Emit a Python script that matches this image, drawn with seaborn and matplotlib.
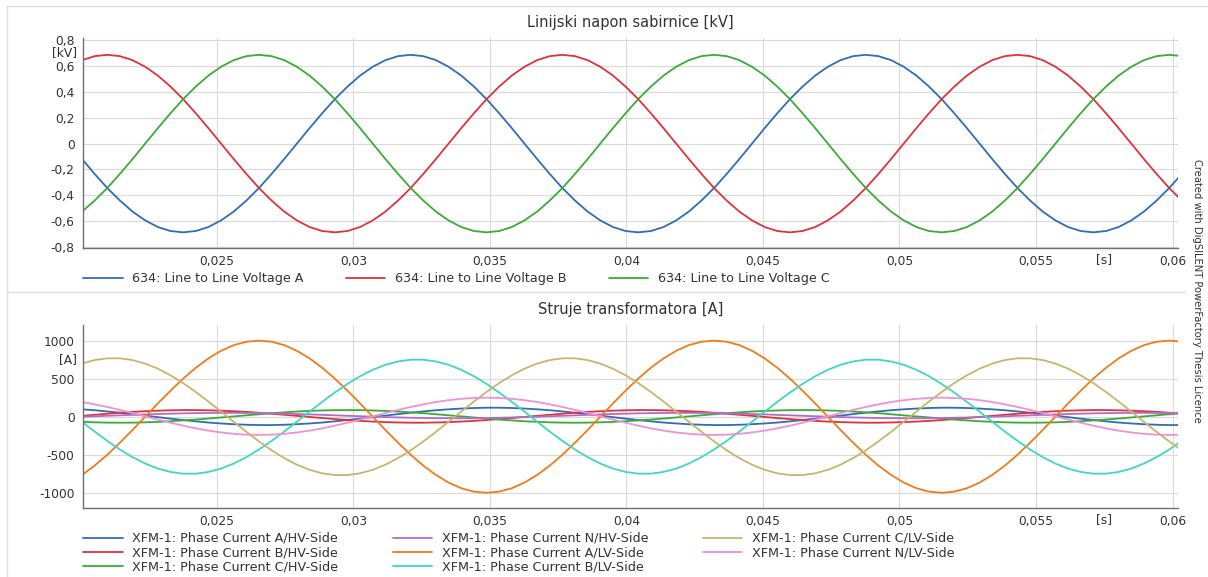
import matplotlib
matplotlib.use("Agg")
import matplotlib.pyplot as plt
import pandas as pd
import seaborn as sns
from matplotlib.lines import Line2D
from matplotlib.ticker import FixedLocator, MultipleLocator, FuncFormatter

# sample times [s]
t = [0.020063, 0.020526, 0.020989, 0.021452, 0.021915, 0.022378, 0.022841, 0.023304, 0.023767, 0.024230,
     0.024693, 0.025156, 0.025619, 0.026082, 0.026544, 0.027007, 0.027470, 0.027933, 0.028396, 0.028859,
     0.029322, 0.029785, 0.030248, 0.030711, 0.031174, 0.031637, 0.032100, 0.032563, 0.033026, 0.033489,
     0.033952, 0.034415, 0.034878, 0.035341, 0.035804, 0.036267, 0.036730, 0.037193, 0.037656, 0.038119,
     0.038582, 0.039044, 0.039507, 0.039970, 0.040433, 0.040896, 0.041359, 0.041822, 0.042285, 0.042748,
     0.043211, 0.043674, 0.044137, 0.044600, 0.045063, 0.045526, 0.045989, 0.046452, 0.046915, 0.047378,
     0.047841, 0.048304, 0.048767, 0.049230, 0.049693, 0.050156, 0.050619, 0.051082, 0.051545, 0.052007,
     0.052470, 0.052933, 0.053396, 0.053859, 0.054322, 0.054785, 0.055248, 0.055711, 0.056174, 0.056637,
     0.057100, 0.057563, 0.058026, 0.058489, 0.058952, 0.059415, 0.059878, 0.060341, 0.060804]

# 634: line to line voltages [kV]
v_a = [-0.119, -0.234, -0.343, -0.440, -0.525, -0.593, -0.644, -0.675, -0.685, -0.675, -0.644, -0.593, -0.525,
       -0.440, -0.343, -0.234, -0.119, 0.000, 0.119, 0.234, 0.343, 0.440, 0.525, 0.593, 0.644, 0.675,
       0.685, 0.675, 0.644, 0.593, 0.525, 0.440, 0.343, 0.234, 0.119, 0.000, -0.119, -0.234, -0.343,
       -0.440, -0.525, -0.593, -0.644, -0.675, -0.685, -0.675, -0.644, -0.593, -0.525, -0.440, -0.343, -0.234,
       -0.119, 0.000, 0.119, 0.234, 0.343, 0.440, 0.525, 0.593, 0.644, 0.675,
       0.685, 0.675, 0.644, 0.593, 0.525, 0.440, 0.343, 0.234, 0.119, 0.000, -0.119, -0.234, -0.343,
       -0.440, -0.525, -0.593, -0.644, -0.675, -0.685, -0.675, -0.644, -0.593, -0.525, -0.440, -0.343, -0.234,
       -0.119]
v_b = [0.644, 0.675,
       0.685, 0.675, 0.644, 0.593, 0.525, 0.440, 0.343, 0.234, 0.119, 0.000, -0.119, -0.234, -0.343,
       -0.440, -0.525, -0.593, -0.644, -0.675, -0.685, -0.675, -0.644, -0.593, -0.525, -0.440, -0.343, -0.234,
       -0.119, 0.000, 0.119, 0.234, 0.343, 0.440, 0.525, 0.593, 0.644, 0.675,
       0.685, 0.675, 0.644, 0.593, 0.525, 0.440, 0.343, 0.234, 0.119, 0.000, -0.119, -0.234, -0.343,
       -0.440, -0.525, -0.593, -0.644, -0.675, -0.685, -0.675, -0.644, -0.593, -0.525, -0.440, -0.343, -0.234,
       -0.119, 0.000, 0.119, 0.234, 0.343, 0.440, 0.525, 0.593, 0.644, 0.675,
       0.685, 0.675, 0.644, 0.593, 0.525, 0.440, 0.343, 0.234, 0.119, 0.000, -0.119, -0.234, -0.343,
       -0.440, -0.525]
v_c = [-0.525, -0.440, -0.343, -0.234, -0.119, 0.000, 0.119, 0.234, 0.343, 0.440, 0.525, 0.593, 0.644, 0.675,
       0.685, 0.675, 0.644, 0.593, 0.525, 0.440, 0.343, 0.234, 0.119, 0.000, -0.119, -0.234, -0.343,
       -0.440, -0.525, -0.593, -0.644, -0.675, -0.685, -0.675, -0.644, -0.593, -0.525, -0.440, -0.343, -0.234,
       -0.119, 0.000, 0.119, 0.234, 0.343, 0.440, 0.525, 0.593, 0.644, 0.675,
       0.685, 0.675, 0.644, 0.593, 0.525, 0.440, 0.343, 0.234, 0.119, 0.000, -0.119, -0.234, -0.343,
       -0.440, -0.525, -0.593, -0.644, -0.675, -0.685, -0.675, -0.644, -0.593, -0.525, -0.440, -0.343, -0.234,
       -0.119, 0.000, 0.119, 0.234, 0.343, 0.440, 0.525, 0.593, 0.644, 0.675,
       0.685, 0.675, 0.644]

# XFM-1 phase currents [A]
i_a_hv = [97, 85, 69, 52, 34, 14, -6, -26, -44, -61, -77, -89, -99, -106, -110, -110, -106, -99, -89, -77,
          -61, -44, -26, -6, 14, 34, 52, 69, 85, 97, 107, 114, 118,
          118, 114, 107, 97, 85, 69, 52, 34, 14, -6, -26, -44, -61, -77, -89, -99, -106, -110, -110, -106,
          -99, -89, -77, -61, -44, -26, -6, 14, 34, 52, 69, 85, 97, 107, 114, 118,
          118, 114, 107, 97, 85, 69, 52, 34, 14, -6, -26, -44, -61, -77, -89, -99, -106, -110, -110, -106]
i_b_hv = [11, 25, 39, 52, 63, 72, 79, 84, 87,
          87, 84, 79, 72, 63, 52, 39, 25, 11, -3, -18, -31, -44, -55, -64, -71, -76, -79, -79, -76, -71,
          -64, -55, -44, -31, -18, -3, 11, 25, 39, 52, 63, 72, 79, 84, 87,
          87, 84, 79, 72, 63, 52, 39, 25, 11, -3, -18, -31, -44, -55, -64, -71, -76, -79, -79, -76, -71,
          -64, -55, -44, -31, -18, -3, 11, 25, 39, 52, 63, 72, 79, 84, 87,
          87, 84, 79, 72, 63, 52, 39, 25]
i_c_hv = [-68, -74, -78, -79, -78, -74, -68, -60, -49, -38, -24, -10, 4, 18, 32, 46, 57, 68, 76, 82, 86,
          87, 86, 82, 76, 68, 57, 46, 32, 18, 4, -10, -24, -38, -49, -60, -68, -74, -78, -79, -78, -74,
          -68, -60, -49, -38, -24, -10, 4, 18, 32, 46, 57, 68, 76, 82, 86,
          87, 86, 82, 76, 68, 57, 46, 32, 18, 4, -10, -24, -38, -49, -60, -68, -74, -78, -79, -78, -74,
          -68, -60, -49, -38, -24, -10, 4, 18, 32, 46, 57]
i_n_hv = [0, 6, 12, 18, 24, 30, 35, 40, 44, 47, 49, 50,
          50, 49, 47, 44, 40, 35, 30, 24, 18, 12, 6, 0, -5, -10, -14, -17, -19, -20, -20, -19, -17, -14,
          -10, -5, 0, 6, 12, 18, 24, 30, 35, 40, 44, 47, 49, 50,
          50, 49, 47, 44, 40, 35, 30, 24, 18, 12, 6, 0, -5, -10, -14, -17, -19, -20, -20, -19, -17, -14,
          -10, -5, 0, 6, 12, 18, 24, 30, 35, 40, 44, 47, 49, 50,
          50, 49, 47, 44, 40]
i_a_lv = [-766, -643, -500, -342, -174, 0, 174, 342, 500, 643, 766, 866, 940, 985,
          1000, 985, 940, 866, 766, 643, 500, 342, 174, 0, -174, -342, -500, -643, -766, -866, -940, -985,
          -1000, -985, -940, -866, -766, -643, -500, -342, -174, 0, 174, 342, 500, 643, 766, 866, 940, 985,
          1000, 985, 940, 866, 766, 643, 500, 342, 174, 0, -174, -342, -500, -643, -766, -866, -940, -985,
          -1000, -985, -940, -866, -766, -643, -500, -342, -174, 0, 174, 342, 500, 643, 766, 866, 940, 985,
          1000, 985, 940]
i_b_lv = [-66, -195, -318, -431, -532, -616, -682, -726, -749, -749, -726, -682, -616, -532, -431, -318,
          -195, -66, 66, 195, 318, 431, 532, 616, 682, 726, 749,
          749, 726, 682, 616, 532, 431, 318, 195, 66, -66, -195, -318, -431, -532, -616, -682, -726, -749,
          -749, -726, -682, -616, -532, -431, -318, -195, -66, 66, 195, 318, 431, 532, 616, 682, 726, 749,
          749, 726, 682, 616, 532, 431, 318, 195, 66, -66, -195, -318, -431, -532, -616, -682, -726, -749,
          -749, -726, -682, -616, -532, -431, -318, -195]
i_c_lv = [698, 744, 767,
          767, 744, 698, 631, 544, 442, 325, 199, 67, -67, -199, -325, -442, -544, -631, -698, -744, -767,
          -767, -744, -698, -631, -544, -442, -325, -199, -67, 67, 199, 325, 442, 544, 631, 698, 744, 767,
          767, 744, 698, 631, 544, 442, 325, 199, 67, -67, -199, -325, -442, -544, -631, -698, -744, -767,
          -767, -744, -698, -631, -544, -442, -325, -199, -67, 67, 199, 325, 442, 544, 631, 698, 744, 767,
          767, 744, 698, 631, 544, 442, 325, 199, 67, -67, -199, -325, -442, -544]
i_n_lv = [193, 162, 128, 89, 48, 5, -38, -79, -118, -153, -183, -207, -225, -236, -240, -236, -225, -207,
          -183, -153, -118, -79, -38, 5, 48, 89, 128, 162, 193, 217, 235, 246,
          250, 246, 235, 217, 193, 162, 128, 89, 48, 5, -38, -79, -118, -153, -183, -207, -225, -236,
          -240, -236, -225, -207, -183, -153, -118, -79, -38, 5, 48, 89, 128, 162, 193, 217, 235, 246,
          250, 246, 235, 217, 193, 162, 128, 89, 48, 5, -38, -79, -118, -153, -183, -207, -225, -236,
          -240, -236, -225]

volt_names = ['634: Line to Line Voltage A', '634: Line to Line Voltage B', '634: Line to Line Voltage C']
curr_names = ['XFM-1: Phase Current A/HV-Side', 'XFM-1: Phase Current B/HV-Side',
              'XFM-1: Phase Current C/HV-Side', 'XFM-1: Phase Current N/HV-Side',
              'XFM-1: Phase Current A/LV-Side', 'XFM-1: Phase Current B/LV-Side',
              'XFM-1: Phase Current C/LV-Side', 'XFM-1: Phase Current N/LV-Side']

volt_colors = ['#2f6db5', '#e0323c', '#3aab35']
curr_colors = ['#2f6db5', '#e0323c', '#3aab35', '#b46ccb',
               '#f07b1c', '#3fd7c2', '#c8b56c', '#ef92cf']

volt_df = pd.DataFrame(dict(zip(['t'] + volt_names, [t, v_a, v_b, v_c]))).melt(
    id_vars='t', var_name='series', value_name='value')
curr_df = pd.DataFrame(dict(zip(['t'] + curr_names,
                                [t, i_a_hv, i_b_hv, i_c_hv, i_n_hv, i_a_lv, i_b_lv, i_c_lv, i_n_lv]))).melt(
    id_vars='t', var_name='series', value_name='value')

sns.set_theme(style='white')
plt.rcParams['font.family'] = ['DejaVu Sans']

W, H = 1208, 577
fig = plt.figure(figsize=(W / 100, H / 100), dpi=100)
fig.patch.set_facecolor('white')

ax1 = fig.add_axes([83 / W, 1 - 248 / H, (1178 - 83) / W, 210 / H])
ax2 = fig.add_axes([83 / W, 1 - 508 / H, (1178 - 83) / W, 183 / H])

sns.lineplot(data=volt_df, x='t', y='value', hue='series', hue_order=volt_names,
             palette=volt_colors, linewidth=1.3, estimator=None, sort=False, ax=ax1)
sns.lineplot(data=curr_df, x='t', y='value', hue='series', hue_order=curr_names,
             palette=curr_colors, linewidth=1.3, estimator=None, sort=False, ax=ax2)

text_col = '#333333'
xticks = [0.025, 0.03, 0.035, 0.04, 0.045, 0.05, 0.055, 0.06]


def dec(v):
    s = ('%g' % round(v, 4)).replace('.', ',')
    return '0' if s in ('-0', '0') else s


for ax, yt, ylim, yminor, unit, unit_y in [
        (ax1, [-0.8, -0.6, -0.4, -0.2, 0, 0.2, 0.4, 0.6, 0.8], (-0.806, 0.815), 0.05, '[kV]', 0.7),
        (ax2, [-1000, -500, 0, 500, 1000], (-1200, 1205), 125, '[A]', 750)]:
    ax.set_xlim(0.0201, 0.0602)
    ax.set_ylim(*ylim)
    ax.xaxis.set_major_locator(FixedLocator(xticks))
    ax.xaxis.set_major_formatter(FuncFormatter(lambda v, p: dec(v)))
    ax.xaxis.set_minor_locator(MultipleLocator(0.00125))
    ax.yaxis.set_major_locator(FixedLocator(yt))
    ax.yaxis.set_major_formatter(FuncFormatter(lambda v, p: dec(v)))
    ax.yaxis.set_minor_locator(MultipleLocator(yminor))
    ax.tick_params(which='major', direction='in', length=0, labelsize=8.8, labelcolor=text_col)
    ax.tick_params(axis='x', which='major', pad=5)
    ax.tick_params(axis='y', which='major', pad=6)
    ax.tick_params(which='minor', direction='in', length=3, width=0.8, color='#999999')
    ax.grid(True, which='major', color='#dadada', linewidth=0.8)
    ax.set_axisbelow(True)
    for side in ['top', 'right']:
        ax.spines[side].set_visible(False)
    for side in ['left', 'bottom']:
        ax.spines[side].set_color('#707070')
        ax.spines[side].set_linewidth(1.0)
    ax.set_xlabel('')
    ax.set_ylabel('')
    # unit labels
    ax.annotate(unit, xy=(0, unit_y), xycoords=('axes fraction', 'data'), xytext=(-4.3, 0),
                textcoords='offset points', ha='right', va='center', fontsize=8.8, color=text_col)
    ax.annotate('[s]', xy=(0.0575, 0), xycoords=('data', 'axes fraction'), xytext=(0, -3.6),
                textcoords='offset points', ha='center', va='top', fontsize=8.8, color=text_col)

ax1.set_title('Linijski napon sabirnice [kV]', fontsize=10.5, color=text_col, pad=8)
ax2.set_title('Struje transformatora [A]', fontsize=10.5, color=text_col, pad=8)

sns.move_legend(ax1, 'upper left', bbox_to_anchor=(0, -0.115), ncol=3, frameon=False, title=None,
                fontsize=9.2, handlelength=3.1, handletextpad=0.75, columnspacing=3.3,
                borderaxespad=0, borderpad=0)
sns.move_legend(ax2, 'upper left', bbox_to_anchor=(0, -0.131), ncol=3, frameon=False, title=None,
                fontsize=9.2, handlelength=3.1, handletextpad=0.75, columnspacing=4.25,
                borderaxespad=0, borderpad=0, labelspacing=0.1)
for leg in [ax1.get_legend(), ax2.get_legend()]:
    for txt in leg.get_texts():
        txt.set_color(text_col)

# frame lines of the exported graphics page
frame_col = '#dddddd'
fig.add_artist(Line2D([7 / W, 7 / W], [0, 1 - 6 / H], color=frame_col, lw=1))
fig.add_artist(Line2D([7 / W, 1], [1 - 6 / H, 1 - 6 / H], color=frame_col, lw=1))
fig.add_artist(Line2D([7 / W, 1185 / W], [1 - 292 / H, 1 - 292 / H], color=frame_col, lw=1))

fig.text(1197 / W, 1 - 291 / H, 'Created with DigSILENT PowerFactory Thesis Licence', rotation=270,
         ha='center', va='center', fontsize=7.2, color=text_col)

fig.savefig('out.png', dpi=100)
